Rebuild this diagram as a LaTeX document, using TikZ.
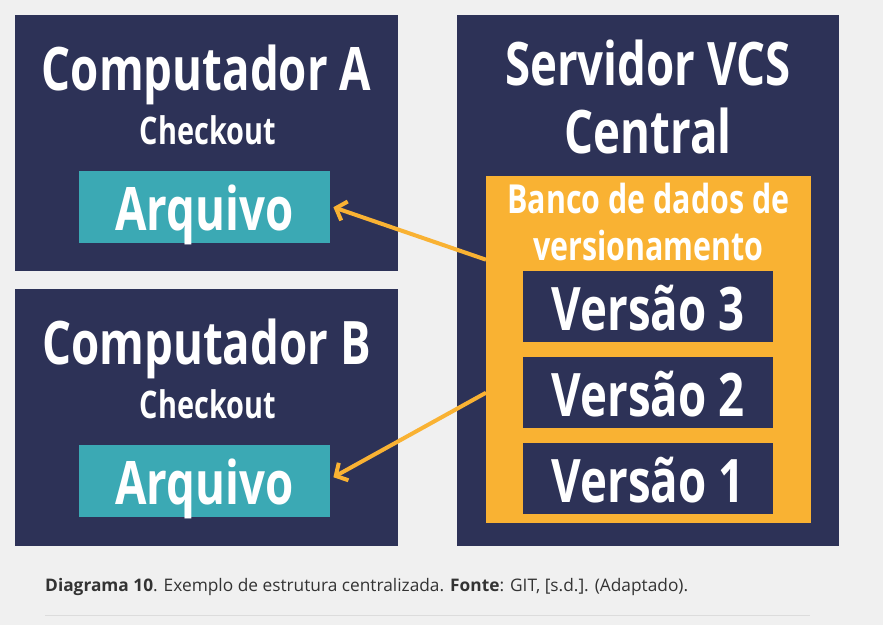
\documentclass[tikz,border=0pt]{standalone}
\usepackage{fontspec}
\setmainfont{Open Sans}
\newfontfamily\condfont[FakeStretch=0.76]{Open Sans}
\usetikzlibrary{arrows.meta}
\definecolor{bgc}{HTML}{F0F0F0}
\definecolor{navy}{HTML}{2D3257}
\definecolor{teal}{HTML}{3BA9B4}
\definecolor{gold}{HTML}{F9B233}
\definecolor{rulec}{HTML}{DCDCDC}
\definecolor{capc}{HTML}{333333}
\tikzset{
  panel/.style={fill=navy, draw=none, anchor=north west, inner sep=0pt},
  filebox/.style={fill=teal, draw=none, anchor=north west, inner sep=0pt},
  dbbox/.style={fill=gold, draw=none, anchor=north west, inner sep=0pt},
  verbox/.style={fill=navy, draw=none, anchor=north west, inner sep=0pt},
  bigtxt/.style={text=white, anchor=base, inner sep=0pt, font=\condfont\bfseries\fontsize{60}{60}\selectfont},
  midtxt/.style={text=white, anchor=base, inner sep=0pt, font=\condfont\bfseries\fontsize{38}{38}\selectfont},
  dbtxt/.style={text=white, anchor=base, inner sep=0pt, font=\condfont\bfseries\fontsize{40}{40}\selectfont},
  vertxt/.style={text=white, anchor=base, inner sep=0pt, font=\condfont\bfseries\fontsize{60}{60}\selectfont},
  link/.style={draw=gold, line width=4pt, -{Straight Barb[length=9pt,width=20pt,line width=4pt]}}
}
\begin{document}
\begin{tikzpicture}[x=1pt,y=-1pt]
\useasboundingbox (0,0) rectangle (883,625);
\fill[bgc] (0,0) rectangle (883,625);

% Computador A
\node[panel, minimum width=383pt, minimum height=256pt] (compA) at (15,15) {};
\node[bigtxt] (titA) at (206.5,90) {Computador A};
\node[midtxt] (chkA) at (208,144) {Checkout};
\node[filebox, minimum width=251pt, minimum height=72pt] (arqA) at (79,171) {};
\node[bigtxt] (arqAt) at (204.5,230) {Arquivo};

% Computador B
\node[panel, minimum width=383pt, minimum height=257pt] (compB) at (15,289) {};
\node[bigtxt] (titB) at (206.5,364) {Computador B};
\node[midtxt] (chkB) at (208,418) {Checkout};
\node[filebox, minimum width=251pt, minimum height=72pt] (arqB) at (79,445) {};
\node[bigtxt] (arqBt) at (204.5,504) {Arquivo};

% Servidor
\node[panel, minimum width=382pt, minimum height=531pt] (srv) at (457,15) {};
\node[bigtxt] (srvt1) at (648,85) {Servidor VCS};
\node[bigtxt] (srvt2) at (648,153) {Central};
\node[dbbox, minimum width=325pt, minimum height=347pt] (db) at (486,176) {};
\node[dbtxt] (dbt1) at (648.5,213) {Banco de dados de};
\node[dbtxt] (dbt2) at (648.5,260) {versionamento};
\node[verbox, minimum width=250pt, minimum height=71pt] (v3) at (523,271) {};
\node[vertxt] (v3t) at (648,330) {Versão 3};
\node[verbox, minimum width=250pt, minimum height=71pt] (v2) at (523,357) {};
\node[vertxt] (v2t) at (648,416) {Versão 2};
\node[verbox, minimum width=250pt, minimum height=71pt] (v1) at (523,443) {};
\node[vertxt] (v1t) at (648,502) {Versão 1};

% arrows
\coordinate (srcA) at ([yshift=90pt]db.west);
\coordinate (srcB) at ([yshift=-43pt]db.west);
\draw[link] (srcA) -- ([xshift=3pt,yshift=0pt]arqA.east);
\draw[link] (srcB) -- ([xshift=3pt,yshift=4pt]arqB.east);

% caption
\node[anchor=base west, inner sep=0pt, text=capc, font=\fontsize{17.3}{17.3}\selectfont] (cap) at (45,591)
  {\textbf{Diagrama 10}. Exemplo de estrutura centralizada. \textbf{Fonte}: GIT, [s.d.]. (Adaptado).};
\coordinate (ruleL) at (45,615);
\coordinate (ruleR) at (810,615);
\draw[rulec, line width=1pt] (ruleL) -- (ruleR);
\end{tikzpicture}
\end{document}
